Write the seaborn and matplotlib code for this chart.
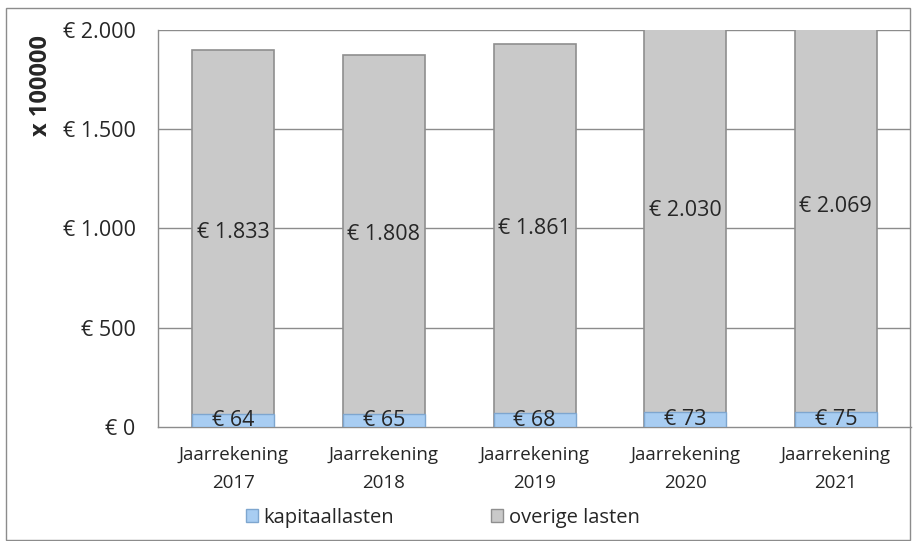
import matplotlib
matplotlib.use("Agg")
import matplotlib.pyplot as plt
import seaborn as sns
import pandas as pd
from matplotlib.ticker import FuncFormatter
from matplotlib.patches import Rectangle, Patch

categories = ["Jaarrekening\n2017", "Jaarrekening\n2018", "Jaarrekening\n2019",
              "Jaarrekening\n2020", "Jaarrekening\n2021"]
kapitaallasten = [64, 65, 68, 73, 75]
overige_lasten = [1833, 1808, 1861, 2030, 2069]

df = pd.DataFrame({"jaar": categories, "kap": kapitaallasten, "overig": overige_lasten})
df["totaal"] = df["kap"] + df["overig"]

sns.set_style("white")
plt.rcParams["font.family"] = ["Open Sans", "DejaVu Sans"]

fig = plt.figure(figsize=(9.13, 5.41), dpi=100)
ax = fig.add_axes([0.173, 0.211, 0.825, 0.734])

grey = "#c9c9c9"
blue = "#a8cdf2"

for y in [500, 1000, 1500, 2000]:
    ax.axhline(y, color="#8c8c8c", lw=1.0, zorder=0)

sns.barplot(data=df, x="jaar", y="totaal", color=grey, width=0.545,
            edgecolor="#8f8f8f", linewidth=1.2, saturation=1, ax=ax, zorder=2)
sns.barplot(data=df, x="jaar", y="kap", color=blue, width=0.545,
            edgecolor="#7ea6cf", linewidth=1.0, saturation=1, ax=ax, zorder=3)


def euro(v):
    return "€ " + f"{v:,.0f}".replace(",", ".")


for i, (k, o) in enumerate(zip(kapitaallasten, overige_lasten)):
    ax.text(i, k / 2, euro(k), ha="center", va="center", fontsize=15.5, zorder=5)
    ax.text(i, k + o / 2, euro(o), ha="center", va="center", fontsize=15.5, zorder=5)

ax.set_ylim(0, 2000)
ax.set_xlim(-0.5, 4.5)
ax.set_yticks([0, 500, 1000, 1500, 2000])
ax.yaxis.set_major_formatter(FuncFormatter(lambda v, p: euro(v)))
ax.tick_params(axis="y", labelsize=15.5, length=0, pad=16)
ax.tick_params(axis="x", labelsize=13.5, length=0, pad=14)
for t in ax.get_xticklabels():
    t.set_linespacing(1.7)
ax.set_xlabel("")
ax.set_ylabel("x 100000", fontsize=17, fontweight="bold")
ax.yaxis.set_label_coords(-0.155, 0.859)
ax.yaxis.label.set_va("center")

for s in ["top", "right"]:
    ax.spines[s].set_visible(False)
for s in ["left", "bottom"]:
    ax.spines[s].set_color("#8c8c8c")
    ax.spines[s].set_linewidth(1.0)

handles = [Patch(facecolor=blue, edgecolor="#7ea6cf", label="kapitaallasten"),
           Patch(facecolor=grey, edgecolor="#8f8f8f", label="overige lasten")]
fig.legend(handles=handles, loc="center", bbox_to_anchor=(0.485, 0.043), ncol=2,
           frameon=False, fontsize=14.5, handlelength=0.6, handleheight=0.6,
           handletextpad=0.3, columnspacing=4.8)

fig.patches.append(Rectangle((0.0066, 0.002), 0.99, 0.983, transform=fig.transFigure,
                             fill=False, edgecolor="#8c8c8c", lw=1.0))

fig.savefig("out.png", dpi=100)
